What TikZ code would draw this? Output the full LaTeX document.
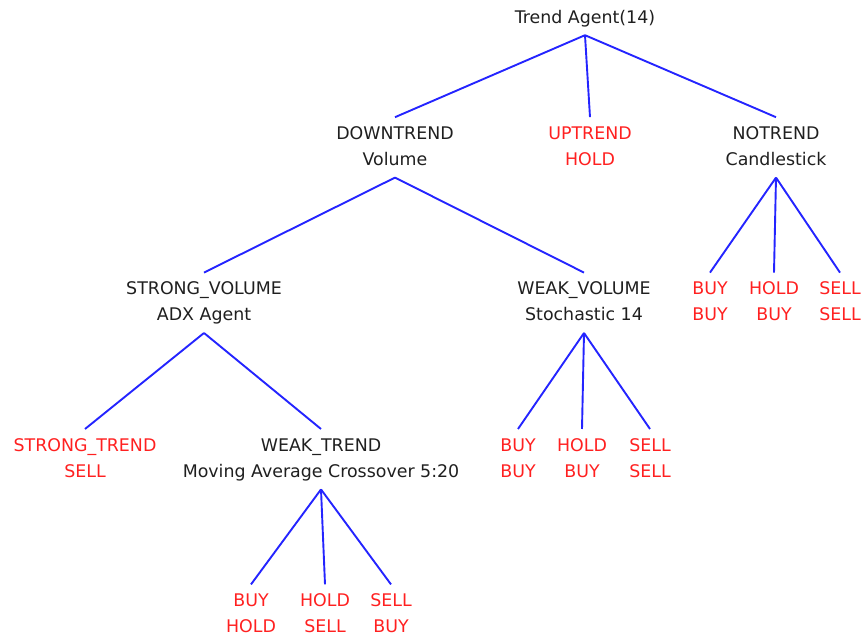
\documentclass[tikz,border=0pt]{standalone}
\usepackage{fontspec}
\setmainfont{DejaVu Sans}
\usetikzlibrary{positioning}
\definecolor{actred}{RGB}{255,32,32}
\definecolor{edgeblue}{RGB}{36,36,255}
\newcommand{\twoline}[2]{\strut#1\\\strut#2}

\begin{document}
\begin{tikzpicture}[
  x=1pt, y=1pt,
  box/.style={align=center, inner sep=4pt, font=\fontsize{17.4}{26}\selectfont, text=black!88},
  act/.style={box, text=actred},
  branch/.style={draw=edgeblue, line width=1.9pt},
]
\useasboundingbox (0,0) rectangle (863,636);
\node[box] (root) at (585,618) {\strut Trend Agent(14)};
\node[box, below=82pt of root, xshift=-190pt] (down) {\twoline{DOWNTREND}{Volume}};
\node[act, below=82pt of root, xshift=5pt] (up) {\twoline{UPTREND}{HOLD}};
\node[box, below=82pt of root, xshift=191pt] (notr) {\twoline{NOTREND}{Candlestick}};
\node[box, below=95pt of down, xshift=-191pt] (strongvol) {\twoline{STRONG\_VOLUME}{ADX Agent}};
\node[box, below=95pt of down, xshift=189pt] (weakvol) {\twoline{WEAK\_VOLUME}{Stochastic 14}};
\node[act, below=95pt of notr, xshift=-66pt] (nbuy) {\twoline{BUY}{BUY}};
\node[act, below=95pt of notr, xshift=-2pt] (nhold) {\twoline{HOLD}{BUY}};
\node[act, below=95pt of notr, xshift=64pt] (nsell) {\twoline{SELL}{SELL}};
\node[act, below=96pt of strongvol, xshift=-119pt] (strongtr) {\twoline{STRONG\_TREND}{SELL}};
\node[box, below=96pt of strongvol, xshift=117pt] (weaktr) {\twoline{WEAK\_TREND}{Moving Average Crossover 5:20}};
\node[act, below=96pt of weakvol, xshift=-66pt] (wbuy) {\twoline{BUY}{BUY}};
\node[act, below=96pt of weakvol, xshift=-2pt] (whold) {\twoline{HOLD}{BUY}};
\node[act, below=96pt of weakvol, xshift=66pt] (wsell) {\twoline{SELL}{SELL}};
\node[act, below=95pt of weaktr, xshift=-70pt] (tbuy) {\twoline{BUY}{HOLD}};
\node[act, below=95pt of weaktr, xshift=4pt] (thold) {\twoline{HOLD}{SELL}};
\node[act, below=95pt of weaktr, xshift=70pt] (tsell) {\twoline{SELL}{BUY}};

\draw[branch] (root.south) -- (down.north);
\draw[branch] (root.south) -- (up.north);
\draw[branch] (root.south) -- (notr.north);
\draw[branch] (down.south) -- (strongvol.north);
\draw[branch] (down.south) -- (weakvol.north);
\draw[branch] (notr.south) -- (nbuy.north);
\draw[branch] (notr.south) -- (nhold.north);
\draw[branch] (notr.south) -- (nsell.north);
\draw[branch] (strongvol.south) -- (strongtr.north);
\draw[branch] (strongvol.south) -- (weaktr.north);
\draw[branch] (weakvol.south) -- (wbuy.north);
\draw[branch] (weakvol.south) -- (whold.north);
\draw[branch] (weakvol.south) -- (wsell.north);
\draw[branch] (weaktr.south) -- (tbuy.north);
\draw[branch] (weaktr.south) -- (thold.north);
\draw[branch] (weaktr.south) -- (tsell.north);
\end{tikzpicture}
\end{document}
